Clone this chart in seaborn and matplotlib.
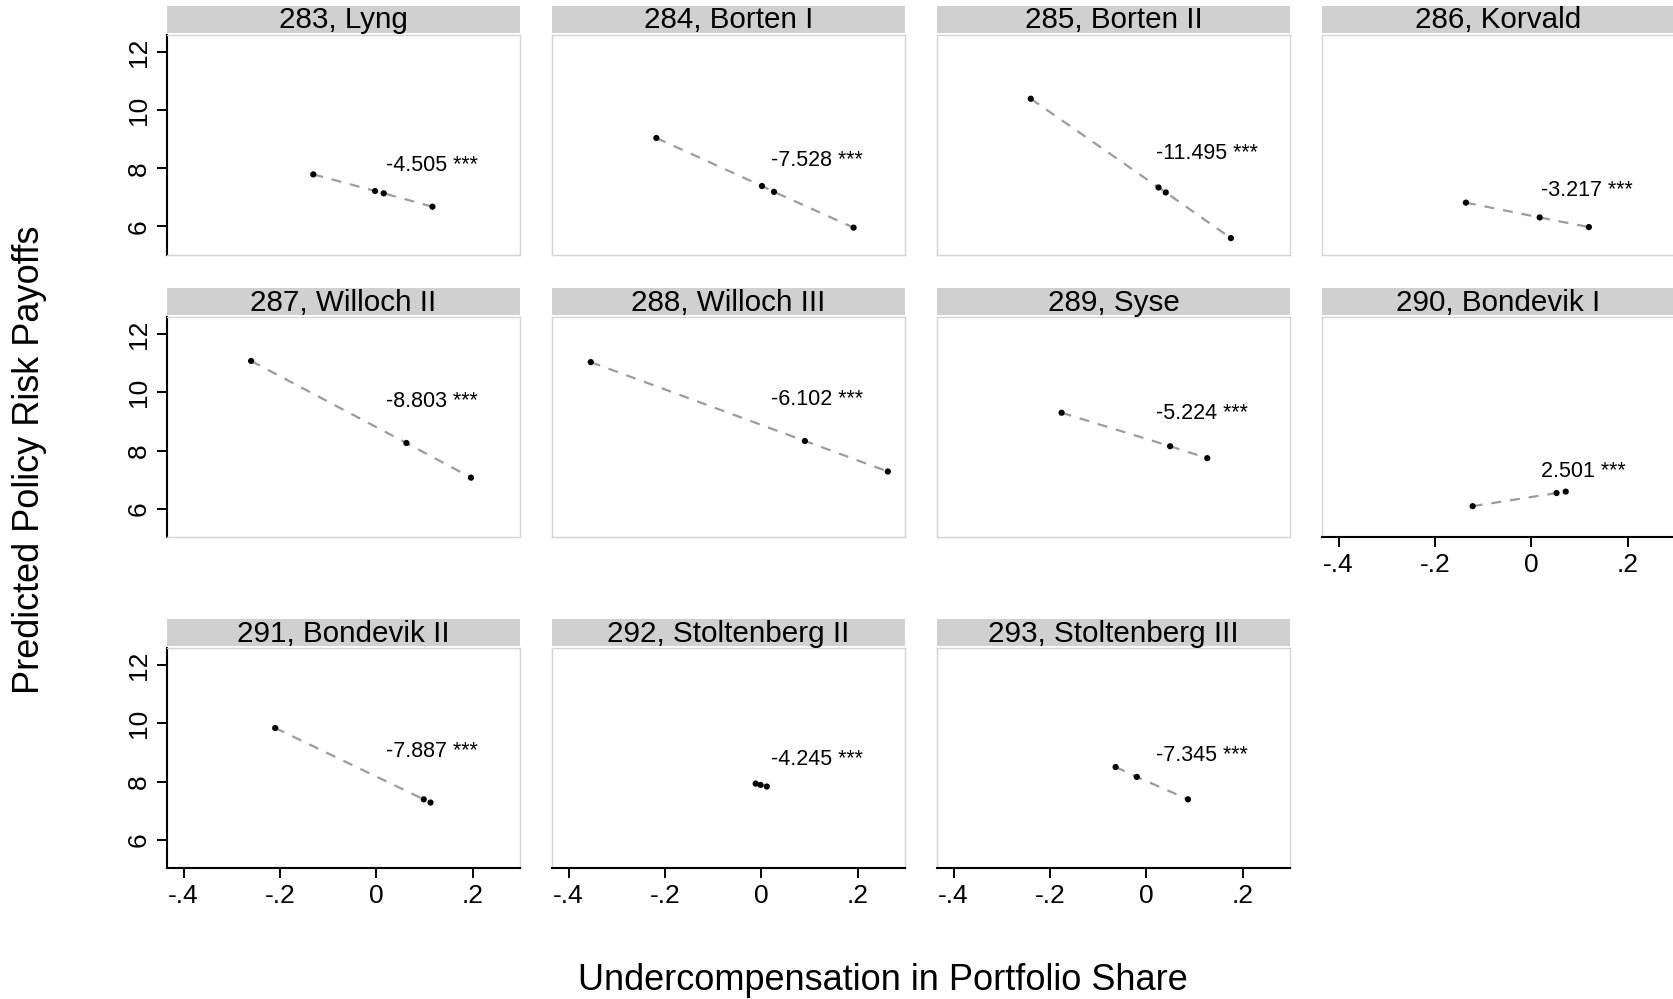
import numpy as np
import pandas as pd
import matplotlib
matplotlib.use("Agg")
import matplotlib.pyplot as plt
from matplotlib.patches import Rectangle
import seaborn as sns

# Cabinets (panel titles)
cabinets = [
    "283, Lyng", "284, Borten I", "285, Borten II", "286, Korvald",
    "287, Willoch II", "288, Willoch III", "289, Syse", "290, Bondevik I",
    "291, Bondevik II", "292, Stoltenberg II", "293, Stoltenberg III",
]

# Undercompensation in portfolio share, one list per cabinet
share = [
    [-0.131, -0.003, 0.015, 0.116],
    [-0.218, 0.001, 0.026, 0.191],
    [-0.240, 0.025, 0.040, 0.175],
    [-0.136, 0.017, 0.119],
    [-0.260, 0.062, 0.196],
    [-0.354, 0.090, 0.262],
    [-0.176, 0.049, 0.126],
    [-0.122, 0.052, 0.071],
    [-0.210, 0.098, 0.112],
    [-0.012, -0.002, 0.011],
    [-0.064, -0.020, 0.086],
]

# Predicted policy risk payoffs, matching the shares above
payoff = [
    [7.79, 7.22, 7.14, 6.68],
    [9.04, 7.39, 7.19, 5.96],
    [10.39, 7.34, 7.17, 5.60],
    [6.82, 6.31, 5.98],
    [11.08, 8.26, 7.07],
    [11.04, 8.33, 7.28],
    [9.30, 8.15, 7.74],
    [6.09, 6.54, 6.59],
    [9.84, 7.39, 7.28],
    [7.93, 7.885, 7.83],
    [8.50, 8.16, 7.39],
]

# Estimated slope per cabinet
slopes = [-4.505, -7.528, -11.495, -3.217, -8.803, -6.102,
          -5.224, 2.501, -7.887, -4.245, -7.345]
stars = ["***"] * len(cabinets)

x_ticks = [-0.4, -0.2, 0, 0.2]
x_tick_labels = ["-.4", "-.2", "0", ".2"]
y_ticks = [6, 8, 10, 12]
y_tick_labels = ["6", "8", "10", "12"]

rows = []
for name, xs, ys in zip(cabinets, share, payoff):
    for xv, yv in zip(xs, ys):
        rows.append({"cabinet": name, "share": xv, "payoff": yv})
df = pd.DataFrame(rows)

sns.set_theme(style="white")
plt.rcParams["font.family"] = ["Liberation Sans", "DejaVu Sans"]

W, H = 1673, 999
fig = plt.figure(figsize=(W / 100, H / 100), dpi=100)

col_left = [166.7, 551.7, 936.7, 1321.7]
row_top = [35.0, 317.3, 648.3]
pw, ph = 353.5, 220.0

frame_grey = "#d4d4d4"
strip_grey = "#d0d0d0"
with_xaxis = {7, 8, 9, 10}

for i, name in enumerate(cabinets):
    r, c = divmod(i, 4)
    ax = fig.add_axes([col_left[c] / W, 1 - (row_top[r] + ph) / H, pw / W, ph / H])
    sub = df[df["cabinet"] == name]

    sns.lineplot(data=sub, x="share", y="payoff", ax=ax, color="#9c9c9c",
                 linewidth=1.6, linestyle=(0, (4.5, 4)), estimator=None,
                 sort=True, zorder=2)
    sns.scatterplot(data=sub, x="share", y="payoff", ax=ax, color="black",
                    s=20, edgecolor="none", zorder=3)

    ax.text(0.02, np.mean(payoff[i]) + 0.88, f"{slopes[i]:.3f} {stars[i]}",
            fontsize=15.5, ha="left", va="center", color="black")

    ax.set_xlim(-0.435, 0.298)
    ax.set_ylim(5.02, 12.58)
    ax.set_xlabel("")
    ax.set_ylabel("")

    for side in ["top", "right", "bottom", "left"]:
        ax.spines[side].set_color(frame_grey)
        ax.spines[side].set_linewidth(1.0)

    ax.tick_params(axis="both", length=7.5, width=1.4, color="black",
                   labelsize=19, labelcolor="black", pad=4)

    if c == 0:
        ax.spines["left"].set_color("black")
        ax.spines["left"].set_linewidth(1.5)
        ax.set_yticks(y_ticks)
        ax.set_yticklabels(y_tick_labels, rotation=90, va="center")
        ax.tick_params(axis="y", left=True)
    else:
        ax.set_yticks([])

    if i in with_xaxis:
        ax.spines["bottom"].set_color("black")
        ax.spines["bottom"].set_linewidth(1.5)
        ax.set_xticks(x_ticks)
        ax.set_xticklabels(x_tick_labels)
        ax.tick_params(axis="x", bottom=True)
    else:
        ax.set_xticks([])

    # title strip above each panel
    ax.add_patch(Rectangle((0, 1 + 2 / ph), 1, 27 / ph, transform=ax.transAxes,
                           facecolor=strip_grey, edgecolor="none", clip_on=False))
    ax.text(0.5, 1 + 6.7 / ph, name, transform=ax.transAxes, ha="center",
            va="baseline", fontsize=21.3, color="black")

fig.text(883 / W, 1 - 981 / H, "Undercompensation in Portfolio Share",
         ha="center", va="center", fontsize=26, color="black")
fig.text(30 / W, 1 - 460 / H, "Predicted Policy Risk Payoffs", rotation=90,
         ha="center", va="center", fontsize=26, color="black")

fig.savefig("out.png", dpi=100, facecolor="white")
